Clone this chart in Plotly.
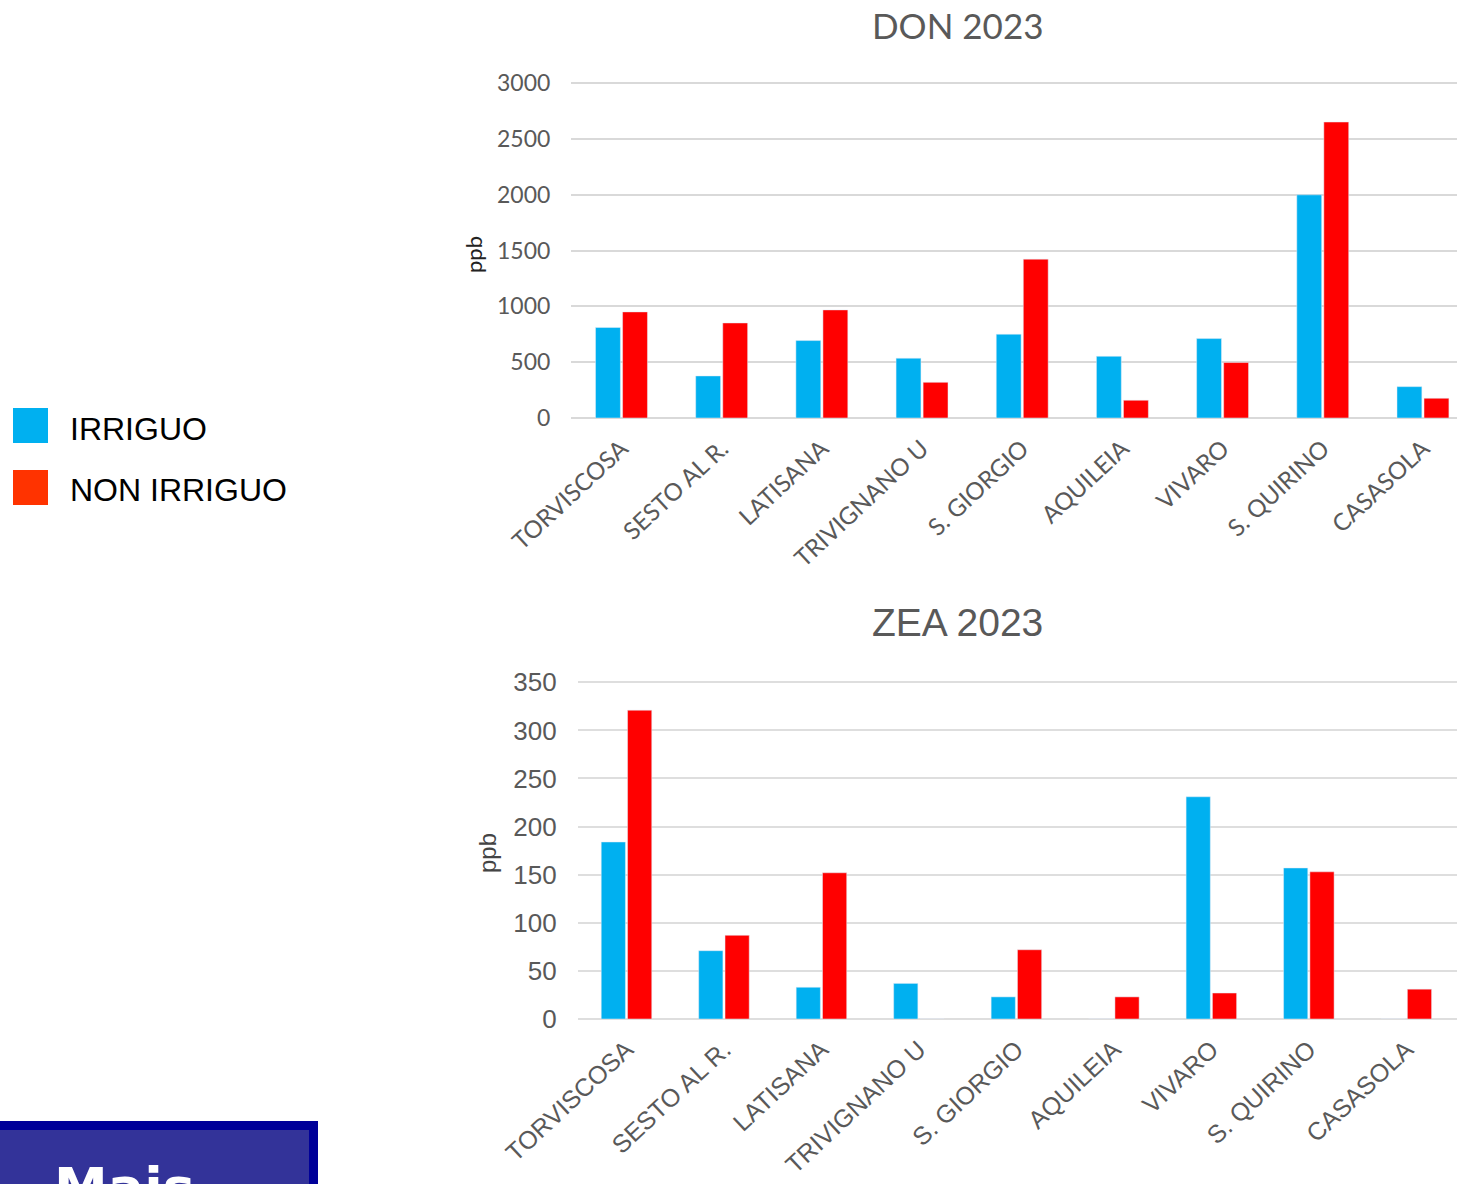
import plotly.graph_objects as go

W, H = 1457, 1184

categories = ["TORVISCOSA", "SESTO AL R.", "LATISANA", "TRIVIGNANO U", "S. GIORGIO",
              "AQUILEIA", "VIVARO", "S. QUIRINO", "CASASOLA"]
don_irriguo = [811, 377, 694, 536, 751, 553, 712, 2000, 281]
don_non_irriguo = [951, 852, 969, 320, 1424, 159, 497, 2653, 177]
zea_irriguo = [184, 71, 33, 37, 23, 0, 231, 157, 0]
zea_non_irriguo = [321, 87, 152, 0, 72, 23, 27, 153, 31]
don_ticks = [0, 500, 1000, 1500, 2000, 2500, 3000]
zea_ticks = [0, 50, 100, 150, 200, 250, 300, 350]

BLUE = "#00B0F0"
RED = "#FF0000"
GRAY = "#595959"


def px(x):
    return x / W


def py(y):
    return 1 - y / H


fig = go.Figure()
fig.add_trace(go.Bar(x=categories, y=don_irriguo, marker_color=BLUE, name="IRRIGUO",
                     xaxis="x", yaxis="y", showlegend=False))
fig.add_trace(go.Bar(x=categories, y=don_non_irriguo, marker_color=RED, name="NON IRRIGUO",
                     xaxis="x", yaxis="y", showlegend=False))
fig.add_trace(go.Bar(x=categories, y=zea_irriguo, marker_color=BLUE, name="IRRIGUO",
                     xaxis="x2", yaxis="y2", showlegend=False))
fig.add_trace(go.Bar(x=categories, y=zea_non_irriguo, marker_color=RED, name="NON IRRIGUO",
                     xaxis="x2", yaxis="y2", showlegend=False))

top_font = "Lato, 'Open Sans', sans-serif"
bot_font = "'Liberation Sans', Arial, sans-serif"

# top chart: 0 at y=418px, 3000 at y=83.3px -> extend a bit so the top gridline is drawn
top_px_per = (418 - 83.3) / 3000
top_max = 3015
bot_px_per = (1019 - 682.3) / 350
bot_max = 352

fig.update_layout(
    width=W, height=H,
    margin=dict(l=0, r=0, t=0, b=0, pad=0, autoexpand=False),
    paper_bgcolor="white", plot_bgcolor="white",
    barmode="group", bargap=0.46, bargroupgap=0.08,
    xaxis=dict(domain=[px(571.4), 1], anchor="y", range=[-0.5, 8.34], automargin=False,
               tickangle=-43, tickfont=dict(family=top_font, size=24, color=GRAY),
               showline=False, showgrid=False, ticks="", ticklabelstandoff=11),
    yaxis=dict(domain=[py(418), py(418 - top_max * top_px_per)], anchor="x",
               range=[0, top_max], automargin=False,
               tickvals=don_ticks, tickfont=dict(family=top_font, size=23, color=GRAY),
               showgrid=True, gridcolor="#D9D9D9", gridwidth=2, zeroline=True,
               zerolinecolor="#D9D9D9", zerolinewidth=2, showline=False, ticks="",
               ticklabelstandoff=20),
    xaxis2=dict(domain=[px(577.75), 1], anchor="y2", range=[-0.5, 8.52], automargin=False,
                tickangle=-43, tickfont=dict(family=bot_font, size=25, color=GRAY),
                showline=False, showgrid=False, ticks="", ticklabelstandoff=10),
    yaxis2=dict(domain=[py(1019), py(1019 - bot_max * bot_px_per)], anchor="x2",
                range=[0, bot_max], automargin=False,
                tickvals=zea_ticks, tickfont=dict(family=bot_font, size=26, color=GRAY),
                showgrid=True, gridcolor="#DEDEDE", gridwidth=2, zeroline=True,
                zerolinecolor="#DEDEDE", zerolinewidth=2, showline=False, ticks="",
                ticklabelstandoff=20),
)

annotations = [
    dict(text="DON 2023", x=px(958), y=py(25), xref="paper", yref="paper",
         xanchor="center", yanchor="middle", showarrow=False,
         font=dict(family=top_font, size=35, color=GRAY)),
    dict(text="ZEA 2023", x=px(958), y=py(622), xref="paper", yref="paper",
         xanchor="center", yanchor="middle", showarrow=False,
         font=dict(family=bot_font, size=39, color=GRAY)),
    dict(text="ppb", x=px(474), y=py(255), xref="paper", yref="paper", textangle=-90,
         xanchor="center", yanchor="middle", showarrow=False,
         font=dict(family=top_font, size=22, color="#222222")),
    dict(text="ppb", x=px(487), y=py(853), xref="paper", yref="paper", textangle=-90,
         xanchor="center", yanchor="middle", showarrow=False,
         font=dict(family=bot_font, size=24, color="#444444")),
    dict(text="IRRIGUO", x=px(68), y=py(429), xref="paper", yref="paper",
         xanchor="left", yanchor="middle", showarrow=False,
         font=dict(family=bot_font, size=32, color="black")),
    dict(text="NON IRRIGUO", x=px(68), y=py(490), xref="paper", yref="paper",
         xanchor="left", yanchor="middle", showarrow=False,
         font=dict(family=bot_font, size=32, color="black")),
    dict(text="<b>Mais</b>", x=px(52), y=py(1154), xref="paper", yref="paper",
         xanchor="left", yanchor="top", showarrow=False,
         font=dict(family="'Comic Sans MS', 'DejaVu Sans', sans-serif", size=54, color="white")),
]
fig.update_layout(annotations=annotations)

shapes = [
    dict(type="rect", xref="paper", yref="paper", x0=px(13), x1=px(48), y0=py(443), y1=py(408),
         fillcolor=BLUE, line=dict(width=0)),
    dict(type="rect", xref="paper", yref="paper", x0=px(13), x1=px(48), y0=py(505), y1=py(470),
         fillcolor="#FF3300", line=dict(width=0)),
    dict(type="rect", xref="paper", yref="paper", x0=0, x1=px(318), y0=py(1200), y1=py(1121),
         fillcolor="#000099", line=dict(width=0), layer="below"),
    dict(type="rect", xref="paper", yref="paper", x0=0, x1=px(309), y0=py(1200), y1=py(1130),
         fillcolor="#333399", line=dict(width=0), layer="below"),
]
fig.update_layout(shapes=shapes)

fig.write_html("out.html",
               config={"displayModeBar": False},
               post_script="document.body.style.margin='0';document.body.style.overflow='hidden';")
